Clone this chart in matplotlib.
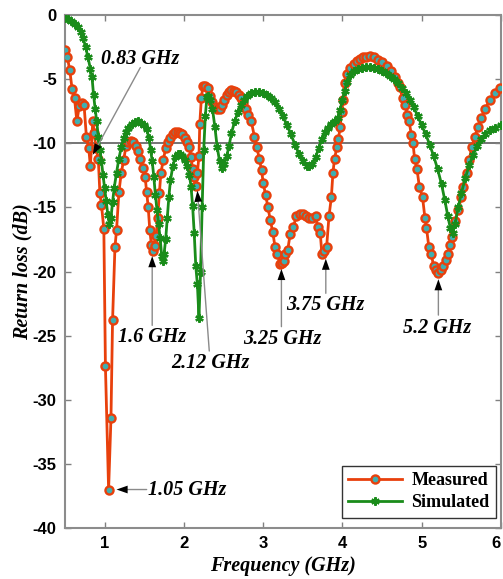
import matplotlib
matplotlib.use("Agg")
import matplotlib.pyplot as plt
import matplotlib.transforms as mtransforms

# ---------------- data ----------------
meas_freq = [0.50, 0.53, 0.56, 0.59, 0.62, 0.65, 0.68, 0.71, 0.74, 0.77,
             0.80, 0.82, 0.85, 0.87, 0.89, 0.92, 0.94, 0.96, 0.99, 1.01,
             1.05, 1.08, 1.10, 1.13, 1.15, 1.18, 1.21, 1.24, 1.27, 1.30,
             1.33, 1.36, 1.39, 1.42, 1.45, 1.48, 1.51, 1.53, 1.55, 1.57,
             1.59, 1.61, 1.63, 1.65, 1.67, 1.69, 1.71, 1.74, 1.77, 1.80,
             1.83, 1.86, 1.89, 1.92, 1.95, 1.98, 2.01, 2.04, 2.07, 2.09,
             2.11, 2.13, 2.15, 2.17, 2.19, 2.20, 2.22, 2.24, 2.27, 2.30,
             2.33, 2.36, 2.39, 2.42, 2.45, 2.48, 2.51, 2.54, 2.57, 2.60,
             2.63, 2.66, 2.69, 2.72, 2.75, 2.78, 2.81, 2.85, 2.89, 2.92,
             2.95, 2.98, 3.00, 3.03, 3.06, 3.09, 3.12, 3.15, 3.18, 3.21,
             3.24, 3.26, 3.28, 3.31, 3.34, 3.38, 3.42, 3.46, 3.50, 3.54,
             3.58, 3.62, 3.66, 3.69, 3.72, 3.74, 3.77, 3.80, 3.83, 3.86,
             3.88, 3.90, 3.93, 3.95, 3.97, 3.99, 4.01, 4.03, 4.06, 4.10,
             4.14, 4.18, 4.22, 4.26, 4.30, 4.35, 4.40, 4.45, 4.50, 4.56,
             4.61, 4.66, 4.70, 4.72, 4.76, 4.79, 4.82, 4.84, 4.87, 4.89,
             4.91, 4.94, 4.97, 5.01, 5.04, 5.06, 5.09, 5.12, 5.15, 5.18,
             5.21, 5.24, 5.27, 5.30, 5.33, 5.36, 5.38, 5.42, 5.46, 5.50,
             5.52, 5.57, 5.60, 5.63, 5.67, 5.71, 5.75, 5.80, 5.86, 5.92,
             5.99]
meas_db = [-2.7, -3.3, -4.3, -5.8, -6.5, -8.3, -7.1, -6.9, -7.0, -9.5,
           -10.4, -11.8, -8.3, -9.2, -10.4, -11.2, -13.9, -14.8, -16.7, -27.4,
           -37.0, -31.4, -23.8, -18.1, -16.8, -13.8, -12.3, -11.3, -10.2, -9.9,
           -9.8, -9.9, -10.2, -10.6, -11.2, -11.9, -12.6, -13.8, -15.0, -16.8,
           -17.9, -18.4, -18.0, -17.2, -15.8, -13.9, -12.3, -11.3, -10.4, -9.9,
           -9.6, -9.3, -9.1, -9.1, -9.2, -9.3, -9.6, -9.9, -10.3, -11.1,
           -12.0, -12.6, -13.3, -12.3, -11.0, -8.5, -6.5, -5.5, -5.5, -5.7,
           -6.3, -6.8, -7.2, -7.3, -7.3, -7.0, -6.6, -6.2, -6.0, -5.85,
           -5.9, -6.0, -6.2, -6.5, -6.9, -7.3, -7.8, -8.3, -9.5, -10.3,
           -11.2, -12.1, -13.1, -14.0, -15.0, -16.0, -16.9, -18.1, -18.6, -19.4,
           -19.3, -19.2, -18.6, -18.3, -17.1, -16.5, -15.7, -15.5, -15.5, -15.7,
           -15.8, -15.8, -15.7, -16.5, -17.0, -18.6, -18.4, -18.1, -15.7, -14.2,
           -12.3, -11.2, -10.3, -9.7, -8.7, -7.6, -6.6, -5.3, -4.6, -4.1,
           -3.8, -3.55, -3.4, -3.3, -3.25, -3.2, -3.3, -3.5, -3.7, -4.0,
           -4.4, -4.8, -5.3, -5.6, -6.5, -7.0, -7.8, -8.3, -9.35, -10.0,
           -11.2, -12.0, -13.4, -14.2, -15.8, -16.6, -18.1, -18.6, -19.6, -19.9,
           -20.1, -19.9, -19.6, -19.1, -18.6, -17.9, -17.3, -16.1, -15.2, -14.2,
           -13.4, -12.3, -11.3, -10.3, -9.5, -8.7, -8.05, -7.3, -6.6, -6.1,
           -5.7]

sim_freq = [0.50, 0.54, 0.58, 0.62, 0.66, 0.70, 0.73, 0.76, 0.79, 0.82,
            0.84, 0.86, 0.88, 0.90, 0.92, 0.94, 0.96, 0.98, 1.00, 1.02,
            1.04, 1.06, 1.08, 1.10, 1.12, 1.15, 1.18, 1.21, 1.24, 1.27,
            1.30, 1.34, 1.38, 1.42, 1.46, 1.50, 1.53, 1.56, 1.58, 1.60,
            1.62, 1.64, 1.66, 1.68, 1.70, 1.72, 1.73, 1.75, 1.77, 1.79,
            1.81, 1.83, 1.86, 1.89, 1.92, 1.95, 1.98, 2.01, 2.04, 2.07,
            2.09, 2.11, 2.13, 2.15, 2.17, 2.19, 2.21, 2.23, 2.25, 2.27,
            2.29, 2.31, 2.33, 2.36, 2.39, 2.42, 2.45, 2.48, 2.51, 2.54,
            2.57, 2.60, 2.64, 2.68, 2.72, 2.76, 2.80, 2.85, 2.90, 2.95,
            3.00, 3.05, 3.10, 3.15, 3.20, 3.25, 3.30, 3.35, 3.40, 3.45,
            3.50, 3.55, 3.58, 3.62, 3.66, 3.70, 3.74, 3.78, 3.82, 3.86,
            3.90, 3.94, 3.97, 4.00, 4.03, 4.06, 4.10, 4.15, 4.20, 4.25,
            4.30, 4.35, 4.40, 4.45, 4.50, 4.55, 4.60, 4.65, 4.70, 4.75,
            4.80, 4.85, 4.90, 4.95, 5.00, 5.05, 5.10, 5.15, 5.20, 5.25,
            5.29, 5.33, 5.36, 5.39, 5.42, 5.46, 5.50, 5.55, 5.60, 5.65,
            5.70, 5.75, 5.80, 5.86, 5.92, 6.00]
sim_db = [-0.25, -0.3, -0.45, -0.7, -0.9, -1.3, -1.8, -2.5, -3.3, -4.2,
          -4.8, -6.2, -7.3, -8.3, -9.5, -10.5, -11.4, -12.5, -13.5, -14.5,
          -15.6, -16.3, -15.8, -14.6, -13.5, -12.3, -11.2, -10.3, -9.6, -9.1,
          -8.8, -8.5, -8.35, -8.3, -8.4, -8.6, -8.9, -9.6, -10.5, -11.4,
          -12.6, -14.0, -15.2, -16.3, -17.4, -18.8, -19.2, -18.6, -17.5, -15.8,
          -14.2, -12.9, -11.8, -11.1, -10.8, -10.8, -11.0, -11.3, -11.8, -12.5,
          -13.4, -14.9, -17.0, -19.6, -21.0, -23.6, -20.0, -15.0, -10.5, -7.9,
          -6.4, -6.3, -6.6, -7.3, -8.7, -10.3, -11.4, -11.9, -11.6, -11.0,
          -10.2, -9.2, -8.3, -7.6, -7.0, -6.6, -6.3, -6.1, -6.0, -6.0,
          -6.05, -6.2, -6.5, -6.8, -7.3, -7.9, -8.6, -9.3, -10.1, -10.8,
          -11.4, -11.8, -11.8, -11.6, -11.1, -10.4, -9.7, -9.1, -8.8, -8.5,
          -8.3, -8.0, -7.4, -6.6, -5.9, -5.2, -4.7, -4.4, -4.2, -4.1,
          -4.05, -4.05, -4.1, -4.2, -4.35, -4.55, -4.75, -5.0, -5.3, -5.7,
          -6.1, -6.6, -7.2, -7.9, -8.6, -9.3, -10.1, -11.0, -12.0, -13.2,
          -14.4, -15.7, -16.6, -17.0, -16.3, -15.0, -13.9, -12.7, -11.7, -10.9,
          -10.2, -9.7, -9.3, -9.0, -8.8, -8.6]

# annotations: label, arrow tip (f, dB), text centre (f, dB), shaft start (f, dB)
ann_labels = ["0.83 GHz", "1.05 GHz", "1.6 GHz", "2.12 GHz",
              "3.25 GHz", "3.75 GHz", "5.2 GHz"]
ann_tip = [(0.85, -10.9), (1.15, -37.0), (1.60, -18.8), (2.17, -13.7),
           (3.23, -19.8), (3.79, -19.0), (5.21, -20.6)]
ann_text = [(1.45, -3.45), (2.04, -37.0), (1.60, -25.1), (2.33, -27.1),
            (3.24, -25.3), (3.79, -22.6), (5.20, -24.4)]
ann_shaft = [(1.45, -4.1), (1.53, -37.0), (1.60, -24.2), (2.32, -26.2),
             (3.23, -24.3), (3.79, -21.7), (5.21, -23.4)]

x_ticks = [1, 2, 3, 4, 5, 6]
y_ticks = [0, -5, -10, -15, -20, -25, -30, -35, -40]

# ---------------- figure ----------------
fig = plt.figure(figsize=(5.03, 5.79), dpi=100)
ax = fig.add_axes([65 / 503, 1 - 528 / 579, 436 / 503, 513 / 579])

red = "#E8400C"
green = "#1A8C1A"

ax.axhline(-10, color="#6a6a6a", lw=1.3, zorder=1)

ax.plot(meas_freq, meas_db, color=red, lw=2.0, marker="o", markersize=5.8,
        markerfacecolor="#3FAFB0", markeredgecolor=red, markeredgewidth=1.7,
        label="Measured", zorder=3)
ax.plot(sim_freq, sim_db, color=green, lw=2.0, marker=(6, 2, 0),
        markersize=6, markeredgecolor=green, markeredgewidth=1.6,
        label="Simulated", zorder=4)

afont = dict(family="Liberation Serif", weight="bold", style="italic", size=14.5)
for lab, tip, txt, sh in zip(ann_labels, ann_tip, ann_text, ann_shaft):
    ax.text(txt[0], txt[1], lab, ha="center", va="center", zorder=6, **afont)
    ax.annotate("", xy=tip, xytext=sh,
                arrowprops=dict(arrowstyle="-", color="#8a8a8a", lw=1.0,
                                shrinkA=0, shrinkB=3), zorder=5)
    ax.annotate("", xy=tip, xytext=sh,
                arrowprops=dict(arrowstyle="-|>,head_length=0.8,head_width=0.28",
                                color="black", lw=0.0, shrinkA=0, shrinkB=0),
                zorder=5)

ax.set_xlim(0.5, 6)
ax.set_ylim(-40, 0)
ax.set_xticks(x_ticks)
ax.set_yticks(y_ticks)
ax.set_xticklabels([str(t) for t in x_ticks])
ax.set_yticklabels([str(t) for t in y_ticks])
ax.tick_params(direction="in", length=4, width=1, color="#808080",
               top=True, right=True, labelsize=12, pad=6)
for lab in ax.get_xticklabels() + ax.get_yticklabels():
    lab.set_fontfamily("Liberation Sans")
    lab.set_fontweight("bold")
# keep the last x tick label inside the canvas
last = ax.get_xticklabels()[-1]
last.set_transform(last.get_transform() +
                   mtransforms.ScaledTranslation(-5 / 100, 0, fig.dpi_scale_trans))

for sp in ax.spines.values():
    sp.set_color("#8c8c8c")
    sp.set_linewidth(1.5)

lfont = dict(family="Liberation Serif", weight="bold", style="italic", size=14.5)
ax.set_xlabel("Frequency (GHz)", fontdict=lfont, labelpad=3)
ax.set_ylabel("Return loss (dB)", fontdict=lfont, labelpad=0)

leg = ax.legend(loc="lower right", bbox_to_anchor=(0.988, 0.02),
                prop=dict(family="Liberation Serif", weight="bold", size=13),
                frameon=True, fancybox=False, edgecolor="#333333", framealpha=1,
                handlelength=3.0, borderaxespad=0.0, borderpad=0.35,
                labelspacing=0.3, handletextpad=0.5)
leg.get_frame().set_linewidth(1.0)

fig.savefig("out.png", dpi=100)
